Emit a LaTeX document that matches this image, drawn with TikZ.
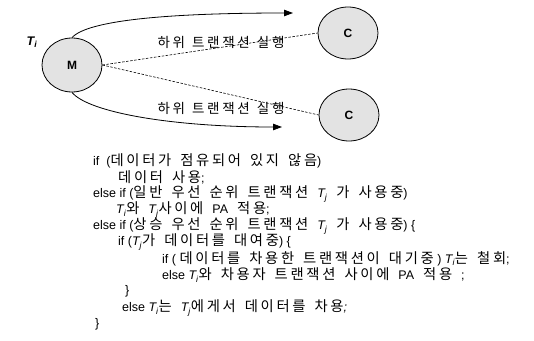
\documentclass[tikz,border=0pt]{standalone}
\usepackage{fontspec}
\setmainfont{Liberation Sans}
\newfontfamily\latfont{Liberation Sans}
\newfontfamily\krfont[LetterSpace=19]{Noto Sans CJK KR}
\newfontfamily\krwidefont[LetterSpace=20]{Noto Sans CJK KR}
\newcommand\lat{\latfont\fontsize{12.5}{14}\selectfont\spaceskip=0pt\relax}
\newcommand\kr{\krfont\fontsize{14.3}{14}\selectfont\spaceskip=9pt\relax}
\newcommand\lblfont{\krwidefont\fontsize{13.5}{14}\selectfont\spaceskip=7pt\relax}
\newcommand\gap{\hspace{9pt}}
\usetikzlibrary{arrows.meta,shapes.geometric}
\newcommand\Ti{{\lat\itshape T\textsubscript{i}}}
\newcommand\Tj{{\lat\itshape T\textsubscript{j}}}
\tikzset{
  codeline/.style={anchor=west, inner sep=0pt, font=\lat},
  site/.style={draw=black, line width=0.8pt, fill=gray!22, shape=ellipse, inner sep=0pt},
  flow/.style={line width=0.8pt, -{Triangle[length=9pt,width=6.5pt]}},
  sub/.style={line width=0.6pt, dash pattern=on 2.5pt off 1.5pt},
  lbl/.style={inner sep=0pt, font=\lblfont}
}
\begin{document}
\begin{tikzpicture}[x=1pt,y=-1pt]
\useasboundingbox (0,0) rectangle (534,340);
\node[site, minimum width=60pt, minimum height=54pt] (M) at (72,65) {\latfont\bfseries\fontsize{12}{13}\selectfont M};
\node[site, minimum width=60pt, minimum height=52pt] (C1) at (348,33) {\latfont\bfseries\fontsize{12}{13}\selectfont C};
\node[site, minimum width=60pt, minimum height=52pt] (C2) at (349,115) {\latfont\bfseries\fontsize{12}{13}\selectfont C};
\node[inner sep=0pt] (T) at (32,42) {\latfont\bfseries\itshape\fontsize{12.5}{13}\selectfont T\textsubscript{i}};
\coordinate (a1) at (293,13);
\coordinate (a2) at (282,127);
\draw[flow] (M.north) .. controls (88,20) and (170,13) .. (a1);
\draw[flow] (M.south) .. controls (88,112) and (170,127) .. (a2);
\draw[sub] (M.east) -- (C1.west);
\draw[sub] (M.east) -- (C2.west);
\node[lbl] (s1) at (221,42) {하위 트랜잭션 실행};
\node[lbl] (s2) at (221,108) {하위 트랜잭션 실행};
\node[codeline] (l1) at (93,161) {if \ (\kr 데이터가 점유되어 있지 않음\lat)};
\node[codeline] (l2) at (118,177) {\kr 데이터 사용\lat;};
\node[codeline] (l3) at (93,194) {else if (\kr 일반 우선 순위 트랜잭션 \Tj{} 가 사용중\lat)};
\node[codeline] (l4) at (116,210) {\Ti{}\kr 와 \Tj{}\kr 사이에\gap\lat PA\gap\kr 적용\lat;};
\node[codeline] (l5) at (93,226) {else if (\kr 상승 우선 순위 트랜잭션 \Tj{} 가 사용중\lat) \{};
\node[codeline] (l6) at (118,242) {if (\Tj{}\kr 가 데이터를 대여중\lat) \{};
\node[codeline] (l7) at (162,259) {if ( \kr 데이터를 차용한 트랜잭션이 대기중\lat{} ) \Ti{}\kr 는 철회\lat;};
\node[codeline] (l8) at (162,275) {else \Ti{}\kr 와 차용자 트랜잭션 사이에\gap\lat PA\gap\kr 적용 \lat;};
\node[codeline] (l9) at (125,291) {\}};
\node[codeline] (l10) at (122,308) {else \Ti{}\kr 는 \Tj{}\kr 에게서 데이터를 차용\lat\itshape;};
\node[codeline] (l11) at (95,324) {\}};
\end{tikzpicture}
\end{document}
